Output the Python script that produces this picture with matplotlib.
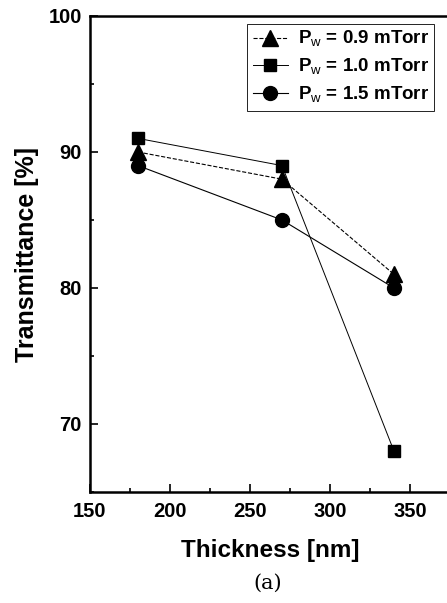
import matplotlib
matplotlib.use("Agg")
import matplotlib.pyplot as plt
from matplotlib.ticker import MultipleLocator

plt.rcParams['font.family'] = ['Liberation Sans', 'DejaVu Sans']
plt.rcParams['mathtext.fontset'] = 'custom'
plt.rcParams['mathtext.rm'] = 'Liberation Sans'

# data
thickness = [180, 270, 340]
t_09 = [90, 88, 81]    # Pw = 0.9 mTorr
t_10 = [91, 89, 68]    # Pw = 1.0 mTorr
t_15 = [89, 85, 80]    # Pw = 1.5 mTorr
labels = [r"P$_\mathrm{w}$ = 0.9 mTorr",
          r"P$_\mathrm{w}$ = 1.0 mTorr",
          r"P$_\mathrm{w}$ = 1.5 mTorr"]

W, H = 447, 603
fig = plt.figure(figsize=(W/100, H/100), dpi=100)
ax = fig.add_axes([90/W, 1-492/H, 360/W, 476/H])

ax.plot(thickness, t_09, ls='--', lw=0.8, color='k', marker='^', ms=11, label=labels[0])
ax.plot(thickness, t_10, ls='-', lw=0.7, color='k', marker='s', ms=9, label=labels[1])
ax.plot(thickness, t_15, ls='-', lw=0.8, color='k', marker='o', ms=10, label=labels[2])

ax.set_xlim(150, 375)
ax.set_ylim(65, 100)
ax.xaxis.set_major_locator(MultipleLocator(50))
ax.xaxis.set_minor_locator(MultipleLocator(25))
ax.yaxis.set_major_locator(MultipleLocator(10))
ax.yaxis.set_minor_locator(MultipleLocator(5))
ax.tick_params(which='both', direction='in', width=1.2, labelsize=14.5)
ax.tick_params(which='major', length=6)
ax.tick_params(which='minor', length=3)
ax.tick_params(axis='x', pad=7)
ax.tick_params(axis='y', pad=6)
for lab in ax.get_xticklabels() + ax.get_yticklabels():
    lab.set_fontweight('bold')
for s in ax.spines.values():
    s.set_linewidth(1.8)

ax.set_xlabel("Thickness [nm]", fontsize=17.5, fontweight='bold', labelpad=13)
ax.set_ylabel("Transmittance [%]", fontsize=18, fontweight='bold', labelpad=7)

leg = ax.legend(loc='upper right', bbox_to_anchor=(350/360, 0.996), fancybox=False,
                edgecolor='k', framealpha=1, borderaxespad=0.3,
                prop={'weight': 'bold', 'size': 13.5}, handlelength=1.9,
                labelspacing=0.4, borderpad=0.3, handletextpad=0.5)
leg.get_frame().set_linewidth(0.6)

fig.text(268/W, 1-583/H, "(a)", fontsize=15, family='DejaVu Serif', ha='center', va='center')

fig.savefig("out.png", dpi=100)
